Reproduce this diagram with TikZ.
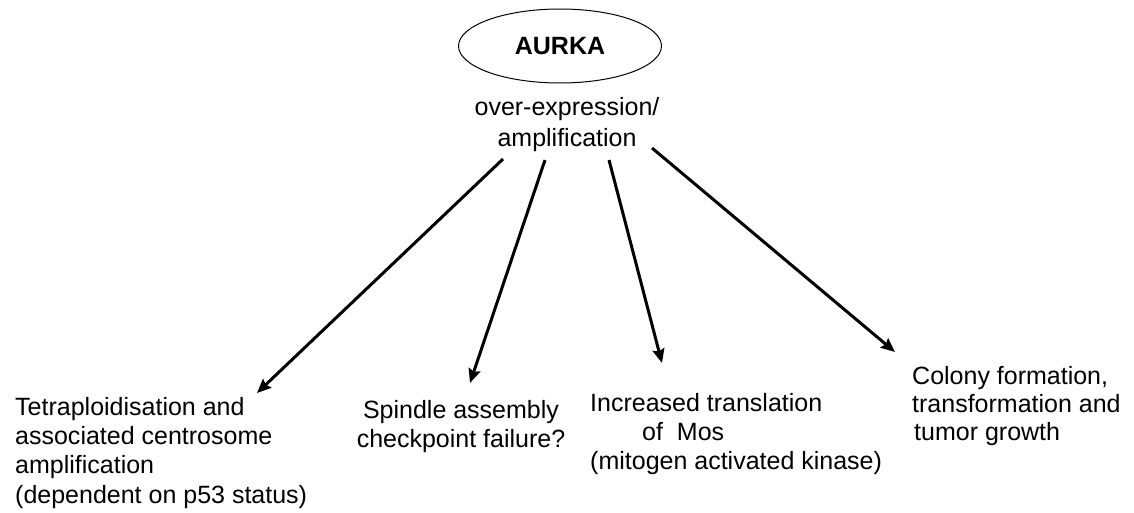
\documentclass[tikz,border=0pt]{standalone}
\usepackage{fontspec}
\setmainfont{Liberation Sans}
\usetikzlibrary{arrows.meta,shapes.geometric}
\begin{document}
\begin{tikzpicture}[x=1pt,y=-1pt,
  lbl/.style={inner sep=0pt,font=\fontsize{25}{29}\selectfont},
  arr/.style={line width=3pt,-{Stealth[length=14pt,width=12pt,inset=2pt]}},
  oval/.style={ellipse,draw,line width=1pt,inner sep=0pt,minimum width=203pt,minimum height=74pt,font=\fontsize{25}{29}\selectfont\bfseries}]
\useasboundingbox (0,0) rectangle (1134,512);
\node[oval] (aurka) at (560,46) {AURKA};
% anchor=base is the baseline of the last line
\node[lbl,align=center,anchor=base,font=\fontsize{25}{30.3}\selectfont] (over) at (567,146) {over-expression/\\amplification};
\node[lbl,align=left,anchor=base west,font=\fontsize{25}{29.3}\selectfont] (tetra) at (15,503) {Tetraploidisation and\\associated centrosome\\amplification\\(dependent on p53 status)};
\node[lbl,align=center,anchor=base] (spindle) at (461,447) {Spindle assembly\\checkpoint failure?};
\node[lbl,align=left,anchor=base west] (mos) at (590,469) {Increased translation\\\hspace*{52pt}of\ \ Mos\\(mitogen activated kinase)};
\node[lbl,align=left,anchor=base west,font=\fontsize{25}{28}\selectfont] (colony) at (912,440) {Colony formation,\\transformation and\\\hspace*{2pt}tumor growth};
\coordinate (s1) at (503,159);
\coordinate (s2) at (545,160);
\coordinate (s3) at (609,160);
\coordinate (s4) at (652,148);
\coordinate (e1) at (257,393);
\coordinate (e2) at (470,383);
\coordinate (e3) at (662,363);
\coordinate (e4) at (895,352);
\draw[arr] (s1) -- (e1);
\draw[arr] (s2) -- (e2);
\draw[arr] (s3) -- (e3);
\draw[arr] (s4) -- (e4);
\end{tikzpicture}
\end{document}
